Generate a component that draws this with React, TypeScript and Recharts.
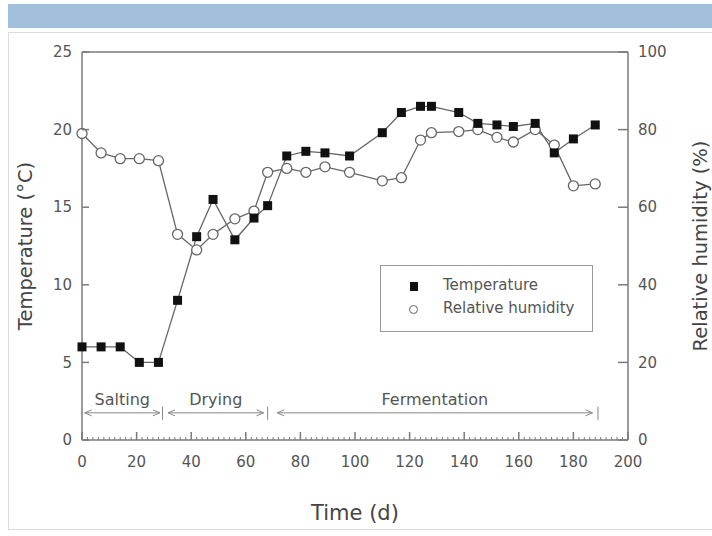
import React from "react";
import { LineChart, Line, XAxis, YAxis, ReferenceLine, Legend } from "recharts";

const days = [0, 7, 14, 21, 28, 35, 42, 48, 56, 63, 68, 75, 82, 89, 98, 110, 117, 124, 128, 138, 145, 152, 158, 166, 173, 180, 188];
const temperature = [6, 6, 6, 5, 5, 9, 13.1, 15.5, 12.9, 14.3, 15.1, 18.3, 18.6, 18.5, 18.3, 19.8, 21.1, 21.5, 21.5, 21.1, 20.4, 20.3, 20.2, 20.4, 18.5, 19.4, 20.3];
const humidity = [79, 74, 72.5, 72.5, 72, 53, 49, 53, 57, 59, 69, 70, 69, 70.4, 69, 66.8, 67.6, 77.3, 79.2, 79.5, 80, 78, 76.8, 80, 76, 65.5, 66];

const tempTicks = [0, 5, 10, 15, 20, 25];
const humTicks = [0, 20, 40, 60, 80, 100];
const timeTicks = [0, 20, 40, 60, 80, 100, 120, 140, 160, 180, 200];

const phases = ["Salting", "Drying", "Fermentation"];
const phaseStart = [1, 31.5, 71.5];
const phaseEnd = [28.5, 66.5, 187];
const phaseMarks = [29.5, 68, 189];

const data = days.map((day, i) => ({ day, temperature: temperature[i], humidity: humidity[i] }));
// minor tick every 2 days along the time axis
const minorTicks = Array.from({ length: 101 }, (_, i) => i * 2);

const FONT = '"DejaVu Sans", sans-serif';
const AXIS = "#7a7a7a";
const TEXT = "#555";
const LINE = "#666";
const ARROW_Y = 1.75;

const LeftTick = (p: any) => (
  <g>
    <line x1={p.x} x2={p.x + 7} y1={p.y} y2={p.y} stroke={AXIS} strokeWidth={1.5} />
    <text x={p.x - 10} y={p.y} dy="0.35em" textAnchor="end" fontSize={15} fill={TEXT} fontFamily={FONT}>
      {p.payload.value}
    </text>
  </g>
);

const RightTick = (p: any) => (
  <g>
    <line x1={p.x - 10} x2={p.x} y1={p.y} y2={p.y} stroke={AXIS} strokeWidth={1.5} />
    <text x={p.x + 10} y={p.y} dy="0.35em" textAnchor="start" fontSize={15} fill={TEXT} fontFamily={FONT}>
      {p.payload.value}
    </text>
  </g>
);

const BottomTick = (p: any) => {
  const v = p.payload.value;
  const major = timeTicks.includes(v);
  return (
    <g>
      <line x1={p.x} x2={p.x} y1={p.y} y2={p.y - (major ? 8 : 3)} stroke={AXIS} strokeWidth={major ? 1.5 : 1} />
      {major && (
        <text x={p.x} y={p.y + 22} dy="0.35em" textAnchor="middle" fontSize={15} fill={TEXT} fontFamily={FONT}>
          {v}
        </text>
      )}
    </g>
  );
};

const Title = (p: any) => {
  const vb = p.viewBox;
  if (p.side === "bottom") {
    return (
      <text x={vb.x + vb.width / 2} y={vb.y + 73} dy="0.35em" textAnchor="middle" fontSize={21} fill="#444" fontFamily={FONT}>
        {p.text}
      </text>
    );
  }
  const x = p.side === "left" ? vb.x + 15 : vb.x + 72;
  const y = vb.y + vb.height / 2;
  return (
    <text x={x} y={y} dy="0.35em" textAnchor="middle" fontSize={19.5} fill="#444" fontFamily={FONT} transform={`rotate(-90 ${x} ${y})`}>
      {p.text}
    </text>
  );
};

const Arrow = (p: any) => {
  const { x1, y1, x2 } = p;
  return (
    <g stroke="#888" strokeWidth={1} fill="none">
      <line x1={x1} y1={y1} x2={x2} y2={y1} />
      <polyline points={`${x1 + 7},${y1 - 3} ${x1},${y1} ${x1 + 7},${y1 + 3}`} />
      <polyline points={`${x2 - 7},${y1 - 3} ${x2},${y1} ${x2 - 7},${y1 + 3}`} />
    </g>
  );
};

const SquareDot = (p: any) => (
  <rect key={`t-${p.index}`} x={p.cx - 4.5} y={p.cy - 4.5} width={9} height={9} fill="#111" />
);

const CircleDot = (p: any) => (
  <circle key={`h-${p.index}`} cx={p.cx} cy={p.cy} r={5} fill="#fff" stroke={LINE} strokeWidth={1.3} />
);

const LegendBox = () => (
  <div style={{ width: 211, height: 65, border: "1px solid #999", background: "#fff", fontFamily: FONT, fontSize: 15, color: TEXT, position: "relative" }}>
    <div style={{ position: "absolute", left: 29, top: 16, width: 8, height: 9, background: "#111" }} />
    <div style={{ position: "absolute", left: 62, top: 10 }}>Temperature</div>
    <div style={{ position: "absolute", left: 28, top: 39, width: 7, height: 7, borderRadius: "50%", border: `1.3px solid ${LINE}` }} />
    <div style={{ position: "absolute", left: 62, top: 33 }}>Relative humidity</div>
  </div>
);

export default function App() {
  return (
    <div style={{ position: "absolute", left: 0, top: 0, width: 712, height: 536, background: "#fff", overflow: "hidden" }}>
      <div style={{ position: "absolute", left: 8, top: 4, width: 704, height: 24, background: "#a2c0dc" }} />
      <div style={{ position: "absolute", left: 8, top: 32, width: 720, height: 496, border: "1px solid #dcdcdc" }} />
      <div style={{ position: "absolute", left: 0, top: 0 }}>
        <LineChart width={712} height={536} data={data} margin={{ top: 52, right: 0, bottom: 6, left: 10 }}>
          <XAxis
            dataKey="day"
            type="number"
            domain={[0, 200]}
            ticks={minorTicks}
            interval={0}
            tickSize={0}
            tickMargin={0}
            tick={<BottomTick />}
            axisLine={{ stroke: AXIS, strokeWidth: 1.5 }}
            tickLine={false}
            height={90}
            label={<Title side="bottom" text="Time (d)" />}
          />
          <YAxis
            yAxisId="t"
            domain={[0, 25]}
            ticks={tempTicks}
            interval={0}
            tickSize={0}
            tickMargin={0}
            tick={<LeftTick />}
            tickLine={false}
            axisLine={{ stroke: AXIS, strokeWidth: 1.5 }}
            width={72}
            label={<Title side="left" text="Temperature (°C)" />}
          />
          <YAxis
            yAxisId="h"
            orientation="right"
            domain={[0, 100]}
            ticks={humTicks}
            interval={0}
            tickSize={0}
            tickMargin={0}
            tick={<RightTick />}
            tickLine={false}
            axisLine={{ stroke: AXIS, strokeWidth: 1.5 }}
            width={84}
            label={<Title side="right" text="Relative humidity (%)" />}
          />
          <ReferenceLine yAxisId="t" y={25} stroke={AXIS} strokeWidth={1.5} />
          {phases.map((name, i) => (
            <ReferenceLine
              key={name}
              yAxisId="t"
              segment={[{ x: phaseStart[i], y: ARROW_Y }, { x: phaseEnd[i], y: ARROW_Y }]}
              shape={Arrow}
              label={{ value: name, position: "top", offset: 8, fontSize: 16, fill: TEXT, fontFamily: FONT }}
            />
          ))}
          {phaseMarks.map((m) => (
            <ReferenceLine
              key={`m-${m}`}
              yAxisId="t"
              segment={[{ x: m, y: 1.3 }, { x: m, y: 2.15 }]}
              stroke="#888"
              strokeWidth={1}
            />
          ))}
          <Line
            yAxisId="h"
            dataKey="humidity"
            name="Relative humidity"
            stroke={LINE}
            strokeWidth={1.3}
            dot={CircleDot}
            isAnimationActive={false}
          />
          <Line
            yAxisId="t"
            dataKey="temperature"
            name="Temperature"
            stroke={LINE}
            strokeWidth={1.3}
            dot={SquareDot}
            isAnimationActive={false}
          />
          <Legend
            layout="vertical"
            align="center"
            verticalAlign="middle"
            wrapperStyle={{ left: 380, top: 265, width: 213, height: 67 }}
            content={<LegendBox />}
          />
        </LineChart>
      </div>
    </div>
  );
}
